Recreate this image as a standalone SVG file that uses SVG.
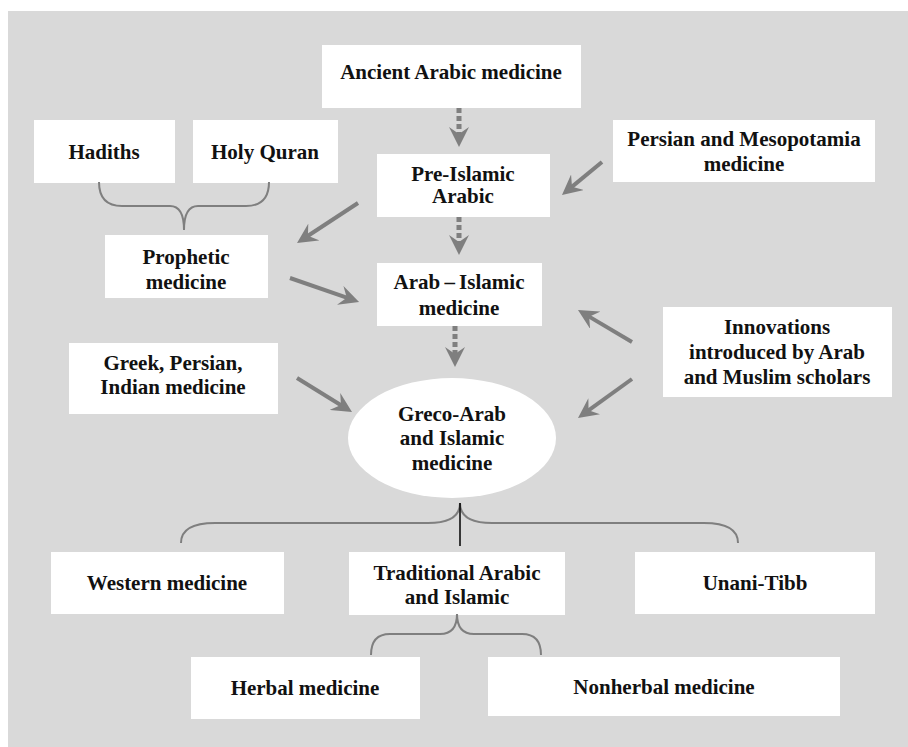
<svg xmlns="http://www.w3.org/2000/svg" width="908" height="747" viewBox="0 0 908 747">
  <defs>
    <marker id="head" markerUnits="userSpaceOnUse" viewBox="0 0 20 20" markerWidth="20" markerHeight="20" refX="10" refY="10" orient="auto">
      <path d="M0,0 L20,10 L0,20 L7,10 z" fill="#7f7f7f"/>
    </marker>
  </defs>
  <style>
    .box { fill: #ffffff; }
    .lbl { font-family: "Liberation Serif", "Times New Roman", serif; font-weight: bold; font-size: 21px; fill: #111111; text-anchor: middle; }
    .solid { stroke: #7f7f7f; stroke-width: 4; fill: none; marker-end: url(#head); }
    .dash { stroke: #7f7f7f; stroke-width: 5; stroke-dasharray: 5 3; fill: none; marker-end: url(#head); }
    .brace { stroke: #7f7f7f; stroke-width: 2; fill: none; }
  </style>

  <rect x="8" y="11" width="900" height="736" fill="#d9d9d9"/>

  <g id="ancient">
    <rect class="box" x="322" y="45" width="259" height="63"/>
    <text class="lbl" x="451" y="79">Ancient Arabic medicine</text>
  </g>
  <g id="hadiths">
    <rect class="box" x="34" y="120" width="141" height="63"/>
    <text class="lbl" x="104" y="159">Hadiths</text>
  </g>
  <g id="quran">
    <rect class="box" x="193" y="120" width="145" height="63"/>
    <text class="lbl" x="265" y="159">Holy Quran</text>
  </g>
  <g id="pre-islamic">
    <rect class="box" x="377" y="154" width="173" height="63"/>
    <text class="lbl" x="463" y="181">Pre-Islamic</text>
    <text class="lbl" x="463" y="203">Arabic</text>
  </g>
  <g id="persian">
    <rect class="box" x="613" y="120" width="262" height="62"/>
    <text class="lbl" x="744" y="146">Persian and Mesopotamia</text>
    <text class="lbl" x="744" y="171">medicine</text>
  </g>
  <g id="prophetic">
    <rect class="box" x="105" y="235" width="163" height="63"/>
    <text class="lbl" x="186" y="264">Prophetic</text>
    <text class="lbl" x="186" y="289">medicine</text>
  </g>
  <g id="arab-islamic">
    <rect class="box" x="377" y="263" width="165" height="63"/>
    <text class="lbl" x="459" y="289">Arab&#8201;–&#8201;Islamic</text>
    <text class="lbl" x="459" y="315">medicine</text>
  </g>
  <g id="greek">
    <rect class="box" x="69" y="343" width="209" height="71"/>
    <text class="lbl" x="173" y="370">Greek, Persian,</text>
    <text class="lbl" x="173" y="394">Indian medicine</text>
  </g>
  <g id="innovations">
    <rect class="box" x="663" y="307" width="229" height="90"/>
    <text class="lbl" x="777" y="334">Innovations</text>
    <text class="lbl" x="777" y="359">introduced by Arab</text>
    <text class="lbl" x="777" y="384">and Muslim scholars</text>
  </g>
  <g id="greco-arab">
    <ellipse class="box" cx="452" cy="438" rx="104" ry="60"/>
    <text class="lbl" x="452" y="421">Greco-Arab</text>
    <text class="lbl" x="452" y="445">and Islamic</text>
    <text class="lbl" x="452" y="470">medicine</text>
  </g>
  <g id="western">
    <rect class="box" x="51" y="552" width="233" height="62"/>
    <text class="lbl" x="167" y="590">Western medicine</text>
  </g>
  <g id="traditional">
    <rect class="box" x="349" y="552" width="216" height="63"/>
    <text class="lbl" x="457" y="580">Traditional Arabic</text>
    <text class="lbl" x="457" y="604">and Islamic</text>
  </g>
  <g id="unani">
    <rect class="box" x="635" y="552" width="240" height="62"/>
    <text class="lbl" x="755" y="590">Unani-Tibb</text>
  </g>
  <g id="herbal">
    <rect class="box" x="191" y="657" width="229" height="62"/>
    <text class="lbl" x="305" y="695">Herbal medicine</text>
  </g>
  <g id="nonherbal">
    <rect class="box" x="488" y="657" width="352" height="59"/>
    <text class="lbl" x="664" y="694">Nonherbal medicine</text>
  </g>

  <g id="connectors">
    <!-- dashed succession arrows -->
    <line class="dash" x1="459" y1="108" x2="459" y2="137"/>
    <line class="dash" x1="459" y1="217" x2="459" y2="245"/>
    <line class="dash" x1="455" y1="326" x2="455" y2="357"/>
    <!-- influence arrows -->
    <line class="solid" x1="602" y1="162" x2="569.7" y2="188.6"/>
    <line class="solid" x1="358" y1="203" x2="305.4" y2="237.5"/>
    <line class="solid" x1="290" y1="278" x2="349.6" y2="298.7"/>
    <line class="solid" x1="632" y1="342" x2="586.6" y2="315.1"/>
    <line class="solid" x1="632" y1="379" x2="586.1" y2="412.1"/>
    <line class="solid" x1="297" y1="378" x2="343.5" y2="406.7"/>
    <!-- braces -->
    <path class="brace" d="M99,182 Q99,206 122,206 L170,206 Q184,206 184,230 Q184,206 198,206 L246,206 Q269,206 269,182"/>
    <path class="brace" d="M181,543 Q181,523 215,523 L428,523 Q460,523 460,503 Q460,523 492,523 L704,523 Q738,523 738,543"/>
    <line x1="460" y1="503" x2="460" y2="546" stroke="#000000" stroke-width="1.5"/>
    <path class="brace" d="M371,655 Q371,634 390,634 L440,634 Q457,634 457,614 Q457,634 474,634 L522,634 Q541,634 541,655"/>
  </g>
</svg>
